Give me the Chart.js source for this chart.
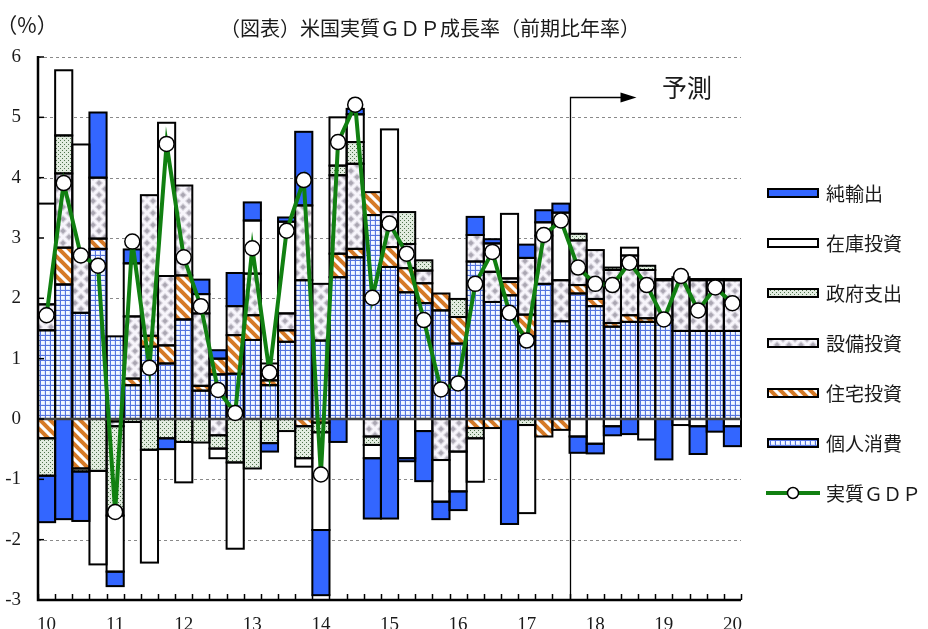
<!DOCTYPE html>
<html>
<head>
<meta charset="utf-8">
<script src="https://cdn.jsdelivr.net/npm/chart.js@4/dist/chart.umd.min.js"></script>
<style>
  html, body { margin: 0; padding: 0; background: #fff; }
  #wrap { width: 928px; height: 629px; position: relative; overflow: hidden; }
</style>
</head>
<body>
<div id="wrap"><canvas id="c" width="928" height="629"></canvas></div>
<script>
// Quarters 2010Q1 - 2020Q1 (forecast from 2017Q4)
const categories = [
  '10Q1','10Q2','10Q3','10Q4','11Q1','11Q2','11Q3','11Q4',
  '12Q1','12Q2','12Q3','12Q4','13Q1','13Q2','13Q3','13Q4',
  '14Q1','14Q2','14Q3','14Q4','15Q1','15Q2','15Q3','15Q4',
  '16Q1','16Q2','16Q3','16Q4','17Q1','17Q2','17Q3','17Q4',
  '18Q1','18Q2','18Q3','18Q4','19Q1','19Q2','19Q3','19Q4','20Q1'
];
const tickLabels = ['10','11','12','13','14','15','16','17','18','19','20'];
const forecastStart = '17Q4';

// Contributions to growth (% points, annualised)
const personal = [1.47,2.23,1.76,2.82,1.37,0.56,1.20,0.92,1.65,0.47,0.74,0.75,1.31,0.56,1.28,2.30,1.30,2.35,2.68,3.38,2.52,2.10,1.92,1.80,1.25,2.61,1.94,2.05,1.37,2.24,1.62,2.08,1.87,1.53,1.61,1.61,1.64,1.46,1.46,1.46,1.46];
const residential = [-0.32,0.61,-0.82,0.17,-0.04,0.11,0.18,0.30,0.73,0.08,0.26,0.64,0.41,0.08,0.19,-0.12,-0.06,0.39,0.14,0.38,0.33,0.40,0.33,0.28,0.44,-0.15,-0.15,0.22,0.36,-0.29,-0.18,0.14,0.12,0.06,0.11,0.06,null,null,null,null,null];
const equipment = [0.43,1.23,0.98,1.01,-0.08,1.03,2.33,1.15,1.49,1.20,-0.27,0.48,0.69,null,0.28,1.24,0.94,1.30,1.41,-0.29,0.58,0.40,0.21,-0.68,-0.54,0.44,0.50,0.06,0.94,0.80,0.68,0.74,0.81,0.88,0.99,0.80,0.66,0.86,0.84,0.84,0.84];
const government = [-0.62,0.63,-0.05,-0.86,-1.48,-0.05,-0.51,-0.32,-0.38,-0.39,-0.22,-0.72,-0.82,-0.40,-0.20,-0.53,-0.16,0.16,0.36,-0.14,null,0.53,0.17,null,0.30,-0.17,null,null,-0.10,null,null,0.11,null,0.04,null,0.07,0.02,0.03,0.02,0.02,0.02];
const inventory = [1.67,1.08,1.81,-1.55,-0.93,0.88,-1.87,2.54,-0.67,0.32,-0.16,-1.43,0.88,0.28,1.52,-0.14,-1.62,0.80,0.46,-0.22,1.37,-0.65,-0.20,-0.69,-0.66,-0.72,0.47,1.07,-1.46,0.22,1.12,-0.29,-0.41,-0.12,0.13,-0.34,null,-0.10,-0.12,null,-0.12];
const netExports = [-0.77,-1.66,-0.82,1.08,-0.24,0.23,null,-0.18,null,0.24,0.14,0.55,0.30,-0.14,0.07,1.22,-1.08,-0.38,0.09,-1.00,-1.65,-0.05,-0.83,-0.29,-0.31,0.30,0.07,-1.74,0.22,0.20,0.15,-0.27,-0.16,-0.15,-0.25,null,-0.67,null,-0.46,-0.21,-0.33];
const realGDP = [1.72,3.91,2.71,2.54,-1.54,2.94,0.85,4.56,2.68,1.87,0.48,0.10,2.83,0.77,3.12,3.96,-0.92,4.59,5.21,2.01,3.24,2.74,1.64,0.49,0.59,2.24,2.77,1.76,1.30,3.05,3.29,2.51,2.24,2.22,2.59,2.22,1.65,2.37,1.80,2.18,1.92];

const NUM_FONT = "'Liberation Serif', 'DejaVu Serif', serif";
const JP_FONT = "'Noto Sans CJK JP', 'Noto Sans', sans-serif";

// ---- fill patterns ----
function makePattern(w, h, paint) {
  const cv = document.createElement('canvas');
  cv.width = w; cv.height = h;
  const g = cv.getContext('2d');
  paint(g, w, h);
  return g.createPattern(cv, 'repeat');
}
const gridFill = makePattern(5, 5, (g, w, h) => {
  g.fillStyle = '#d6e3ff'; g.fillRect(0, 0, w, h);
  g.fillStyle = '#f4f8ff'; g.fillRect(1, 1, 3, 3);
  g.fillStyle = '#5674de'; g.fillRect(0, 0, w, 1); g.fillRect(0, 0, 1, h);
});
const stripeFill = makePattern(10, 10, (g, w, h) => {
  g.fillStyle = '#ffffff'; g.fillRect(0, 0, w, h);
  g.strokeStyle = '#d67a27'; g.lineWidth = 4;
  for (let k = -1; k <= 1; k++) {
    g.beginPath(); g.moveTo(k * w - 2, -2); g.lineTo(k * w + w + 2, h + 2); g.stroke();
  }
});
const diamondFill = makePattern(12, 12, (g, w, h) => {
  g.fillStyle = '#f7f5fb'; g.fillRect(0, 0, w, h);
  const dia = (cx, cy) => {
    g.fillStyle = '#d3d0d9';
    g.beginPath(); g.moveTo(cx, cy - 4); g.lineTo(cx + 4, cy); g.lineTo(cx, cy + 4); g.lineTo(cx - 4, cy); g.closePath(); g.fill();
    g.fillStyle = '#aaa6b2';
    g.beginPath(); g.moveTo(cx, cy - 2.5); g.lineTo(cx + 2.5, cy); g.lineTo(cx, cy + 2.5); g.lineTo(cx - 2.5, cy); g.closePath(); g.fill();
  };
  dia(3, 3); dia(9, 9); dia(15, 3); dia(-3, 9); dia(3, 15); dia(9, -3);
});
const dotFill = makePattern(4, 4, (g, w, h) => {
  g.fillStyle = '#e2ece0'; g.fillRect(0, 0, w, h);
  g.fillStyle = '#4f734c'; g.fillRect(0, 0, 1, 1); g.fillRect(2, 2, 1, 1);
});
const BLUE = '#3366ff';
const GREEN = '#118011';

const series = [
  { label: '個人消費', data: personal, fill: gridFill },
  { label: '住宅投資', data: residential, fill: stripeFill },
  { label: '設備投資', data: equipment, fill: diamondFill },
  { label: '政府支出', data: government, fill: dotFill },
  { label: '在庫投資', data: inventory, fill: '#ffffff' },
  { label: '純輸出', data: netExports, fill: BLUE }
];

const barSets = series.map(s => ({
  type: 'bar',
  label: s.label,
  data: s.data,
  backgroundColor: s.fill,
  borderWidth: 0,
  barPercentage: 1.0,
  categoryPercentage: 1.0,
  stack: 'parts'
}));

const gdpSet = {
  type: 'line',
  label: '実質ＧＤＰ',
  data: realGDP,
  borderColor: GREEN,
  borderWidth: 4,
  tension: 0,
  pointRadius: 7.5,
  pointHoverRadius: 7.5,
  pointBackgroundColor: '#fff',
  pointBorderColor: '#000',
  pointBorderWidth: 1.5,
  stack: 'gdp'
};

// ---- decorations: grid, outlines, axes, forecast marker, titles, legend ----
const decor = {
  id: 'decor',
  beforeDatasetsDraw(chart) {
    const { ctx, chartArea: a, scales: { x, y } } = chart;
    ctx.save();
    ctx.strokeStyle = '#8a8a8a';
    ctx.lineWidth = 1;
    ctx.setLineDash([3, 3]);
    for (let v = -2; v <= 6; v++) {
      if (v === 0) continue;
      const py = Math.round(y.getPixelForValue(v)) + 0.5;
      ctx.beginPath(); ctx.moveTo(a.left, py); ctx.lineTo(a.right, py); ctx.stroke();
    }
    ctx.setLineDash([]);
    // forecast boundary with arrow
    const i = categories.indexOf(forecastStart);
    const fx = Math.round((x.getPixelForValue(i - 1) + x.getPixelForValue(i)) / 2) + 0.5;
    const fy = Math.round(y.getPixelForValue(5.34)) + 0.5;
    ctx.strokeStyle = '#000'; ctx.lineWidth = 1.3;
    ctx.beginPath(); ctx.moveTo(fx, a.bottom); ctx.lineTo(fx, fy); ctx.lineTo(fx + 52, fy); ctx.stroke();
    ctx.fillStyle = '#000';
    ctx.beginPath(); ctx.moveTo(fx + 66, fy); ctx.lineTo(fx + 50, fy - 5); ctx.lineTo(fx + 50, fy + 5); ctx.closePath(); ctx.fill();
    ctx.restore();
  },
  beforeDatasetDraw(chart, args) {
    if (args.index !== 0) return;
    const { ctx, chartArea: a, scales: { y } } = chart;
    ctx.save();
    // outlines of every bar segment, centred on the segment edges
    ctx.strokeStyle = '#000'; ctx.lineWidth = 2;
    for (let d = 1; d <= series.length; d++) {
      const meta = chart.getDatasetMeta(d);
      const vals = chart.data.datasets[d].data;
      meta.data.forEach((el, j) => {
        if (vals[j] === null || vals[j] === undefined) return;
        const p = el.getProps(['x', 'y', 'base', 'width'], true);
        const top = Math.min(p.y, p.base);
        ctx.strokeRect(p.x - p.width / 2, top, p.width, Math.abs(p.base - p.y));
      });
    }
    const py = y.getPixelForValue(0);
    ctx.strokeStyle = '#444'; ctx.lineWidth = 2.5;
    ctx.beginPath(); ctx.moveTo(a.left, py); ctx.lineTo(a.right, py); ctx.stroke();
    ctx.restore();
  },
  afterDraw(chart) {
    const { ctx, chartArea: a, scales: { x, y } } = chart;
    ctx.save();
    // axes
    ctx.strokeStyle = '#000'; ctx.lineWidth = 2.5;
    ctx.beginPath(); ctx.moveTo(a.left, a.top - 1); ctx.lineTo(a.left, a.bottom); ctx.lineTo(a.right, a.bottom); ctx.stroke();
    ctx.lineWidth = 1.5;
    for (let v = -3; v <= 6; v++) {
      const py = y.getPixelForValue(v);
      ctx.beginPath(); ctx.moveTo(a.left, py); ctx.lineTo(a.left + 6, py); ctx.stroke();
    }
    const half = (x.getPixelForValue(1) - x.getPixelForValue(0)) / 2;
    for (let k = 0; k <= categories.length; k++) {
      const px = Math.round(x.getPixelForValue(0) - half + k * half * 2) + 0.5;
      ctx.beginPath(); ctx.moveTo(px, a.bottom); ctx.lineTo(px, a.bottom - 6); ctx.stroke();
    }
    // texts
    ctx.fillStyle = '#1a1a1a';
    ctx.textBaseline = 'middle';
    ctx.textAlign = 'center';
    ctx.font = '20px ' + JP_FONT;
    ctx.fillText('（図表）米国実質ＧＤＰ成長率（前期比年率）', 430, 28);
    ctx.font = '21px ' + JP_FONT;
    ctx.fillText('（%）', 27, 25);
    ctx.font = '25px ' + JP_FONT;
    ctx.fillText('予測', 687, 87);
    // legend
    const items = series.slice().reverse();
    ctx.textAlign = 'left';
    ctx.font = '19px ' + JP_FONT;
    items.forEach((s, k) => {
      const cy = 193 + k * 50;
      ctx.fillStyle = '#000';
      ctx.fillRect(767, cy - 5, 52, 10);
      ctx.fillStyle = s.fill;
      ctx.fillRect(769, cy - 3, 48, 6);
      ctx.fillStyle = '#1a1a1a';
      ctx.fillText(s.label, 826, cy + 1);
    });
    const gy = 193 + 6 * 50;
    ctx.strokeStyle = GREEN; ctx.lineWidth = 4;
    ctx.beginPath(); ctx.moveTo(766, gy); ctx.lineTo(820, gy); ctx.stroke();
    ctx.fillStyle = '#fff'; ctx.strokeStyle = '#000'; ctx.lineWidth = 1.5;
    ctx.beginPath(); ctx.arc(793, gy, 5.5, 0, Math.PI * 2); ctx.fill(); ctx.stroke();
    ctx.fillStyle = '#1a1a1a';
    ctx.fillText(gdpSet.label, 826, gy + 1);
    ctx.restore();
  }
};

new Chart(document.getElementById('c'), {
  data: { labels: categories, datasets: [gdpSet, ...barSets] },
  options: {
    responsive: false,
    devicePixelRatio: 1,
    animation: false,
    layout: { padding: { left: 0, right: 187, top: 57, bottom: 0 } },
    plugins: { legend: { display: false }, tooltip: { enabled: false }, title: { display: false } },
    scales: {
      x: {
        stacked: true,
        grid: { display: false, drawTicks: false },
        border: { display: false },
        ticks: {
          autoSkip: false, maxRotation: 0, minRotation: 0, padding: 14,
          color: '#1a1a1a', font: { family: NUM_FONT, size: 19 },
          callback: (v, i) => (i % 4 === 0 ? tickLabels[i / 4] : '')
        },
        afterFit: s => { s.height = 29; }
      },
      y: {
        stacked: true,
        min: -3, max: 6,
        grid: { display: false, drawTicks: false },
        border: { display: false },
        ticks: { stepSize: 1, padding: 17, color: '#1a1a1a', font: { family: NUM_FONT, size: 19 } },
        afterFit: s => { s.width = 38; }
      }
    }
  },
  plugins: [decor]
});
</script>
</body>
</html>
